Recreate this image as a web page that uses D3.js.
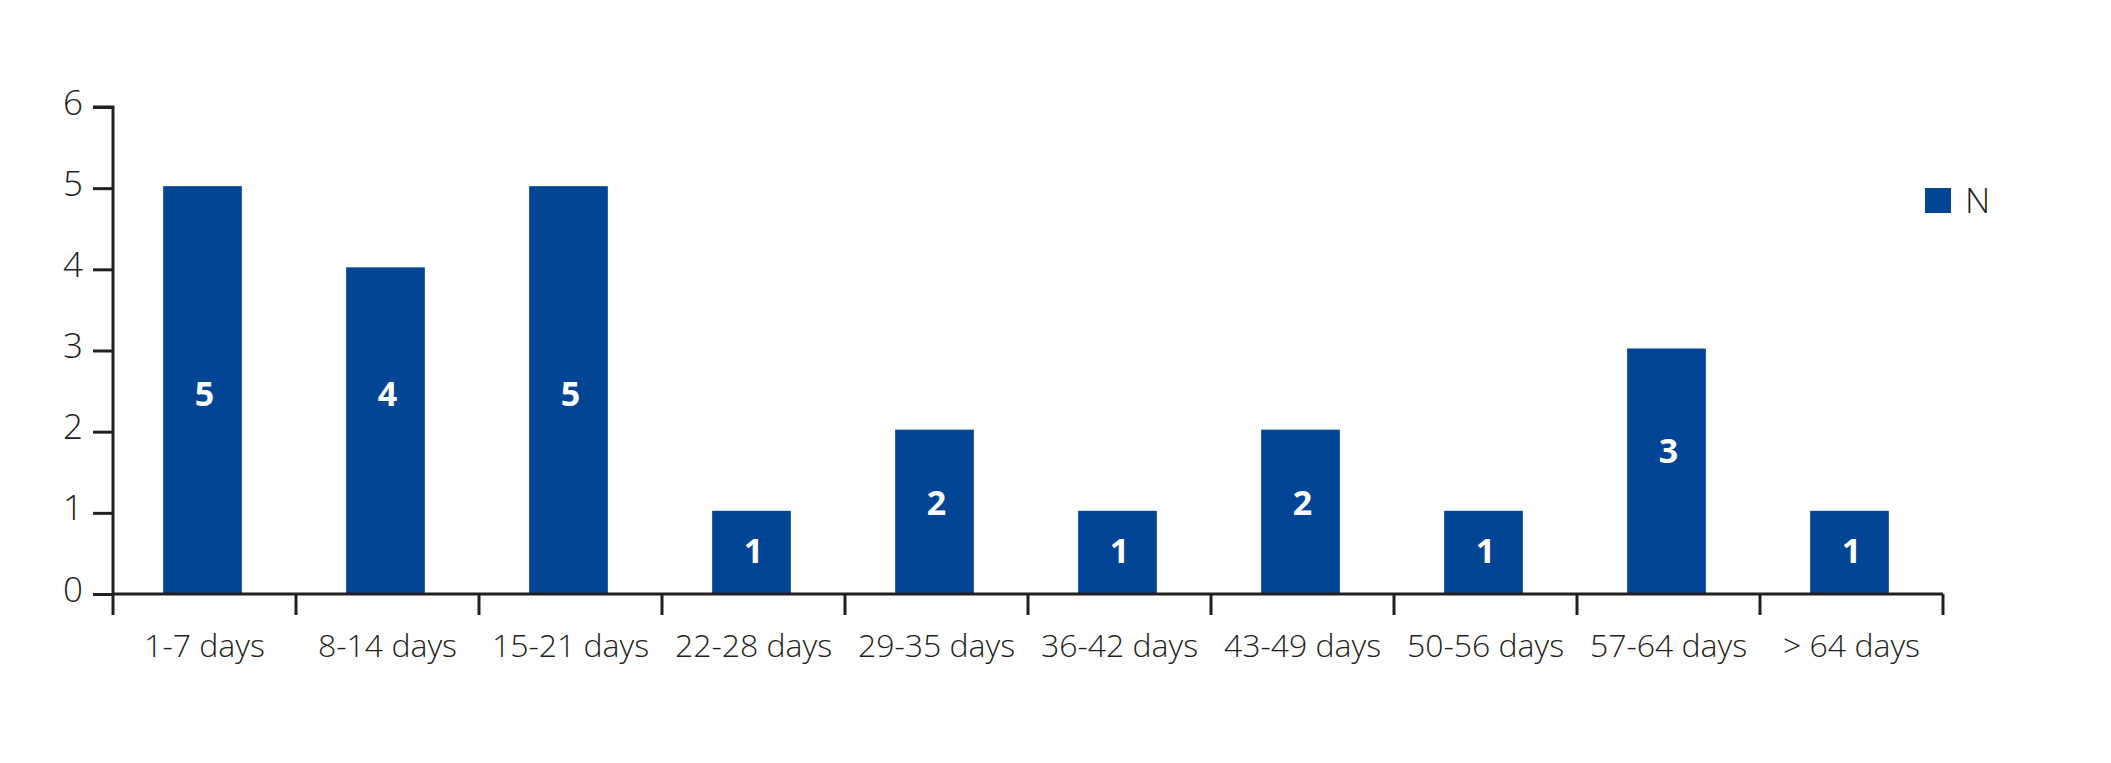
<!DOCTYPE html>
<html><head><meta charset="utf-8">
<script src="https://cdn.jsdelivr.net/npm/d3@7"></script>
<style>body{margin:0;background:#fff}svg{display:block}</style>
</head><body>
<script>
const categories = ["1-7 days","8-14 days","15-21 days","22-28 days","29-35 days","36-42 days","43-49 days","50-56 days","57-64 days","> 64 days"];
const values = [5,4,5,1,2,1,2,1,3,1];
const yTicks = [0,1,2,3,4,5,6];
const seriesName = "N";

(function(){
const W = 2111, H = 763;
const mLeft = 113, mRight = 1943, mTop = 107, mBottom = 594;
const color = "#024594", ink = "#231f20";
const font = "'Open Sans', sans-serif";

const svg = d3.select("body").append("svg").attr("width", W).attr("height", H);
const x = d3.scaleBand().domain(categories).range([mLeft, mRight]).padding(0);
const y = d3.scaleLinear().domain([0, 6]).range([mBottom, mTop]);
const bw = x.bandwidth() * 0.43;

svg.append("g").selectAll("rect").data(values).join("rect")
  .attr("x", (d,i) => x(categories[i]) + x.bandwidth()/2 - bw/2 - 2)
  .attr("y", d => y(d) - 2)
  .attr("width", bw)
  .attr("height", d => y(0) - y(d) + 2)
  .attr("fill", color);

svg.append("g").selectAll("text").data(values).join("text")
  .attr("x", (d,i) => x(categories[i]) + x.bandwidth()/2)
  .attr("y", d => y(Math.min(0.5 * d + 0.03 * d * d, 2.47)))
  .attr("dy", "0.36em")
  .attr("text-anchor", "middle")
  .attr("fill", "#fff")
  .attr("font-family", font).attr("font-weight", 700).attr("font-size", 34)
  .text(d => d);

// y axis
const ya = svg.append("g").attr("transform", `translate(${mLeft},0)`)
  .call(d3.axisLeft(y).tickValues(yTicks).tickSize(20).tickPadding(10).tickFormat(d3.format("d")));
ya.select(".domain").attr("stroke", ink).attr("stroke-width", 3).attr("d", `M-20,${mTop}H0V${mBottom}`);
ya.selectAll(".tick line").attr("stroke", ink).attr("stroke-width", 3);
ya.selectAll(".tick text").attr("fill", ink).attr("font-family", font).attr("font-size", 35).attr("font-weight", 300).attr("dy", "0.2em");

// x axis
const xa = svg.append("g").attr("transform", `translate(0,${mBottom})`)
  .call(d3.axisBottom(x).tickSize(0).tickPadding(40));
xa.select(".domain").attr("stroke", ink).attr("stroke-width", 3).attr("d", `M${mLeft},0H${mRight}`);
xa.selectAll(".tick text").attr("fill", ink).attr("font-family", font).attr("font-size", 32).attr("font-weight", 300).attr("dx", 0);
const bounds = categories.map(c => x(c)).concat([mRight]);
xa.append("g").selectAll("line").data(bounds).join("line")
  .attr("x1", d => d).attr("x2", d => d).attr("y1", 0).attr("y2", 21)
  .attr("stroke", ink).attr("stroke-width", 3);

// legend
const lg = svg.append("g").attr("transform", "translate(1925,188)");
lg.append("rect").attr("width", 26).attr("height", 25).attr("fill", color);
lg.append("text").attr("x", 40).attr("y", 25).attr("fill", ink)
  .attr("font-family", font).attr("font-size", 35).attr("font-weight", 300).text(seriesName);
})();
</script>
</body></html>
